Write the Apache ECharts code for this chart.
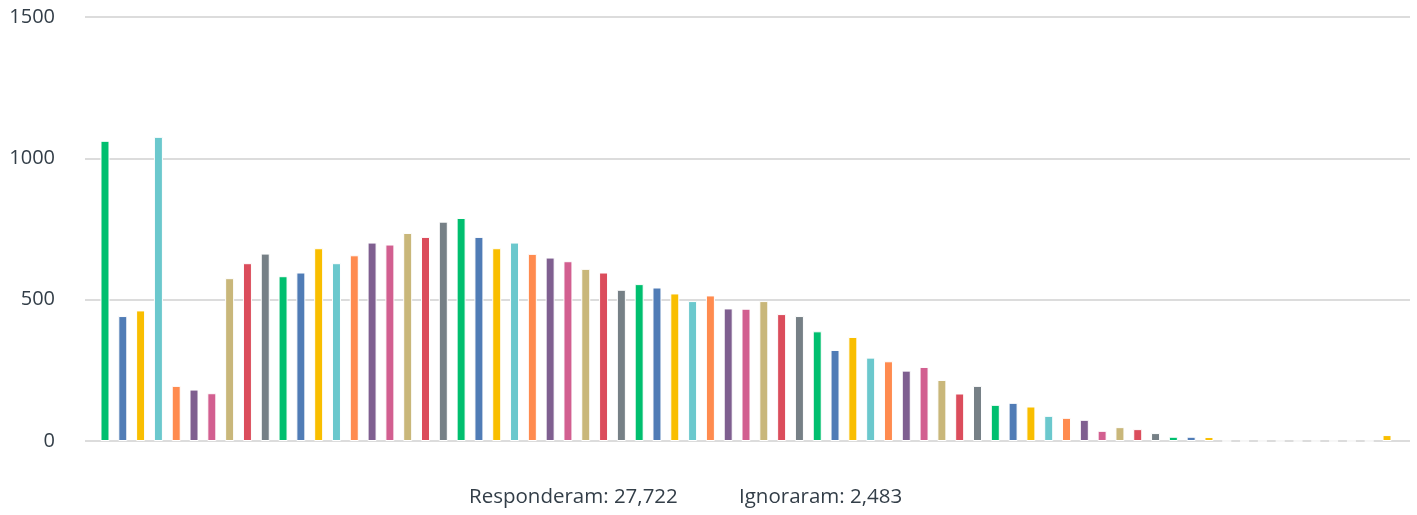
<!DOCTYPE html>
<html>
<head>
<meta charset="utf-8">
<title>Respostas</title>
<script src="https://cdn.jsdelivr.net/npm/echarts@6/dist/echarts.min.js"></script>
<style>
  html, body { margin: 0; padding: 0; background: #fff; }
  #chart { width: 1417px; height: 515px; }
</style>
</head>
<body>
<div id="chart"></div>
<script>
// valores de cada barra (73 opções)
const values = [
  1062, 442, 462, 1076, 195, 182, 169, 576, 629, 663,
  583, 596, 682, 629, 657, 702, 695, 736, 722, 776,
  789, 722, 682, 702, 662, 649, 636, 609, 596, 535,
  555, 543, 522, 495, 515, 469, 468, 495, 449, 442,
  388, 322, 368, 295, 282, 249, 262, 216, 168, 195,
  128, 135, 122, 89, 82, 75, 36, 49, 42, 28,
  15, 15, 14, 0, 0, 0, 0, 0, 0, 0,
  0, 0, 21,
];

// paleta que se repete a cada 10 barras
const palette = [
  '#00BF6F', '#507CB6', '#F9BE00', '#6BC8CD', '#FF8B4F',
  '#7F5F90', '#D25F90', '#C9B77A', '#DB4D5C', '#768086',
];

const yTicks = [0, 500, 1000, 1500];
const footer = ['Responderam: 27,722', 'Ignoraram: 2,483'];

const chart = echarts.init(document.getElementById('chart'));

const textColor = '#333e48';
const font = '"Open Sans", "Noto Sans", sans-serif';

chart.setOption({
  animation: false,
  grid: { left: 85, right: 7, top: 17, bottom: 74 },
  xAxis: {
    type: 'value',
    min: -1.123,
    max: 73.29,
    show: false,
  },
  yAxis: {
    type: 'value',
    min: yTicks[0],
    max: yTicks[yTicks.length - 1],
    interval: 500,
    axisLine: { show: false },
    axisTick: { show: false },
    axisLabel: {
      margin: 30,
      color: textColor,
      fontSize: 20,
      fontFamily: font,
      formatter: (val) => String(val),
    },
    splitLine: { lineStyle: { color: '#dcdcdc', width: 2 } },
  },
  series: [{
    type: 'bar',
    barWidth: 9,
    data: values.map((v, i) => ({
      value: [i, v],
      itemStyle: { color: palette[i % palette.length] },
    })),
    itemStyle: { borderColor: '#ffffff', borderWidth: 1 },
  }],
  graphic: [
    {
      type: 'text', left: 469, top: 487,
      style: { text: footer[0], fill: textColor, font: '20.5px ' + font },
    },
    {
      type: 'text', left: 739, top: 487,
      style: { text: footer[1], fill: textColor, font: '20.5px ' + font },
    },
  ],
});
</script>
</body>
</html>
